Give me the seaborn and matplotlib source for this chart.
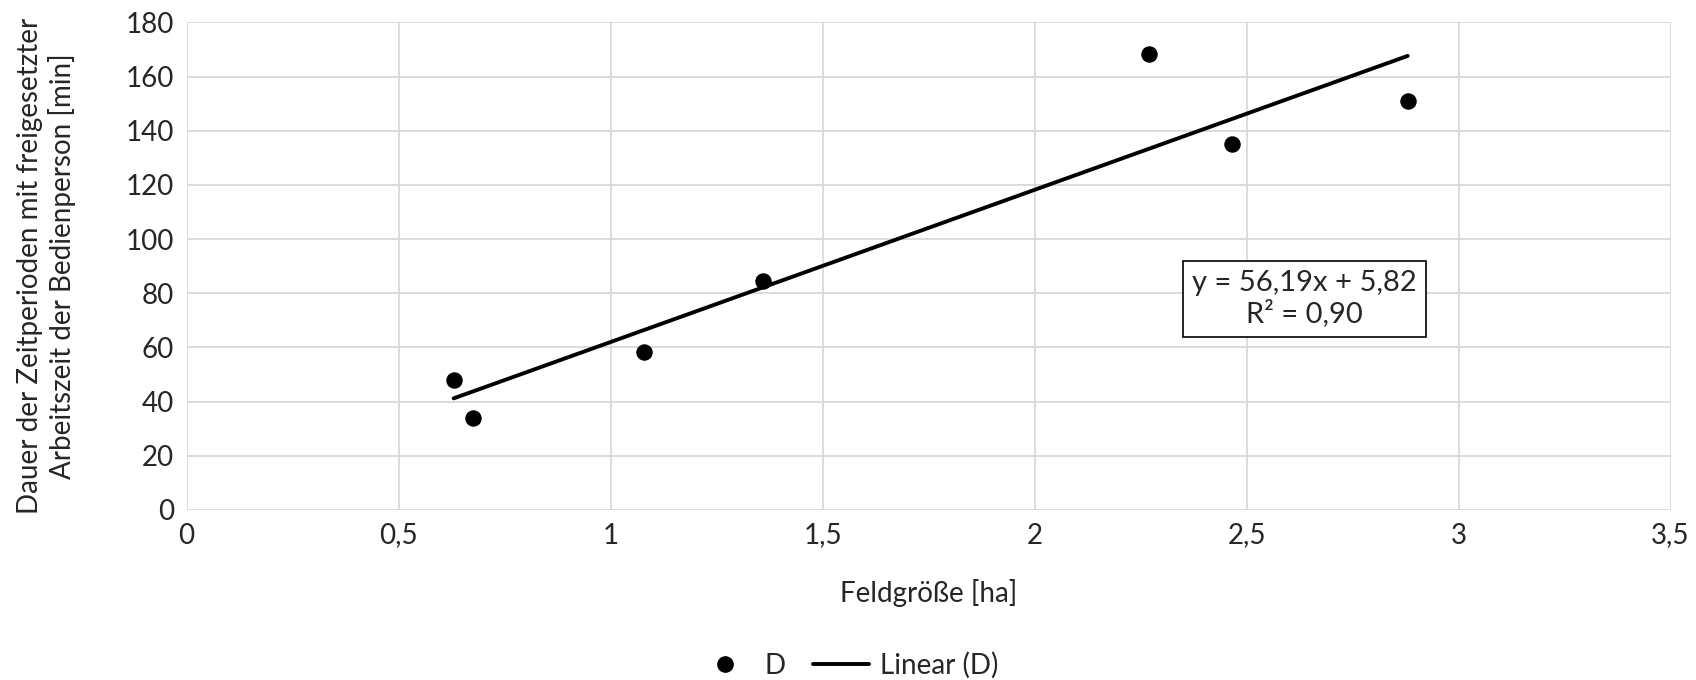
import numpy as np
import pandas as pd
import matplotlib
matplotlib.use("Agg")
import matplotlib.pyplot as plt
import seaborn as sns
from matplotlib.lines import Line2D

# values
feld_ha = [0.63, 0.675, 1.08, 1.36, 2.27, 2.465, 2.88]
dauer_min = [48, 34, 58.5, 84.5, 168.5, 135, 151]
slope = 56.19
intercept = 5.82
r2 = 0.90

x_ticks = [0, 0.5, 1, 1.5, 2, 2.5, 3, 3.5]
y_ticks = [0, 20, 40, 60, 80, 100, 120, 140, 160, 180]

df = pd.DataFrame({"x": feld_ha, "y": dauer_min})
# trendline over the data range
trend = pd.DataFrame({"x": [min(feld_ha), max(feld_ha)]})
trend["y"] = slope * trend.x + intercept

sns.set_style("white")
plt.rcParams["font.family"] = ["Lato", "DejaVu Sans"]

fig, ax = plt.subplots(figsize=(16.96, 6.8), dpi=100)
fig.subplots_adjust(left=0.11, right=0.985, top=0.967, bottom=0.25)

sns.scatterplot(data=df, x="x", y="y", ax=ax, color="black", s=120,
                edgecolor="black", zorder=3)
sns.lineplot(data=trend, x="x", y="y", ax=ax, color="black", linewidth=2.8,
             zorder=2)

ax.set_xlim(0, 3.5)
ax.set_ylim(0, 180)
ax.set_xticks(x_ticks)
ax.set_yticks(y_ticks)
ax.set_xticklabels([f"{t:g}".replace(".", ",") for t in x_ticks])
ax.set_yticklabels([str(t) for t in y_ticks])
ax.tick_params(labelsize=20, length=0, pad=9)
ax.grid(True, color="#d9d9d9", linewidth=1.3)
ax.set_axisbelow(True)
for s in ax.spines.values():
    s.set_visible(False)

ax.set_xlabel("Feldgröße [ha]", fontsize=20, labelpad=22)
ax.set_ylabel("Dauer der Zeitperioden mit freigesetzter\nArbeitszeit der Bedienperson [min]",
              fontsize=20, labelpad=36)

ax.text(2.637, 78, f"y = {slope:.2f}x + {intercept:.2f}\nR² = {r2:.2f}".replace(".", ","),
        ha="center", va="center", fontsize=21, linespacing=1.15,
        bbox=dict(boxstyle="square,pad=0.32", facecolor="white", edgecolor="black",
                  linewidth=1.2))

handles = [Line2D([], [], marker="o", color="black", linestyle="none", markersize=11),
           Line2D([], [], color="black", linewidth=2.8)]
fig.legend(handles, ["D", "Linear (D)"], loc="lower center", ncol=2, frameon=False,
           fontsize=20, bbox_to_anchor=(0.5, -0.035), handlelength=2.0,
           columnspacing=1.0, handletextpad=0.4)

fig.savefig("out.png", dpi=100)
